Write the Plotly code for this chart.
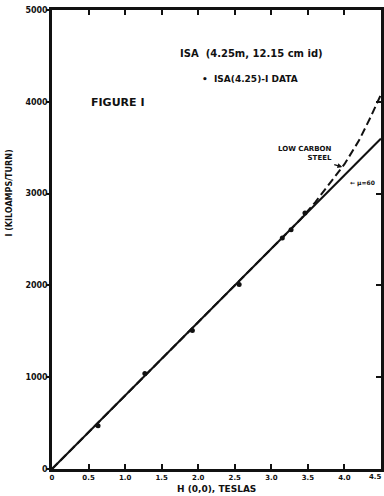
import plotly.graph_objects as go

# Solid line: mu = 60 (linear)
h_line = [0.0, 4.5]
i_line = [0, 3600]

# Dashed curve: low carbon steel
h_steel = [0.0, 1.0, 2.0, 3.0, 3.4, 3.6, 3.8, 4.0, 4.2, 4.35, 4.5]
i_steel = [0, 800, 1600, 2400, 2720, 2905, 3110, 3320, 3580, 3820, 4080]

# Measured data points
h_data = [0.63, 1.27, 1.92, 2.56, 3.15, 3.27, 3.46]
i_data = [470, 1040, 1510, 2010, 2515, 2605, 2790]

x_ticks = [0, 0.5, 1.0, 1.5, 2.0, 2.5, 3.0, 3.5, 4.0, 4.5]
x_tick_text = ["0", "0.5", "1.0", "1.5", "2.0", "2.5", "3.0", "3.5", "4.0", "4.5"]
y_ticks = [0, 1000, 2000, 3000, 4000, 5000]
y_tick_text = ["0", "1000", "2000", "3000", "4000", "5000"]

FONT = "DejaVu Sans"
INK = "#111111"

def txt(size):
    return dict(family=FONT, size=size, weight="bold", color=INK)

fig = go.Figure()
fig.add_trace(go.Scatter(x=h_steel, y=i_steel, mode="lines",
                         line=dict(color=INK, width=2, dash="8px,4px"),
                         hoverinfo="skip", showlegend=False))
fig.add_trace(go.Scatter(x=h_line, y=i_line, mode="lines",
                         line=dict(color=INK, width=2),
                         hoverinfo="skip", showlegend=False))
fig.add_trace(go.Scatter(x=h_data, y=i_data, mode="markers",
                         marker=dict(color=INK, size=5),
                         hoverinfo="skip", showlegend=False))
# invisible traces to anchor the extra tick-only y axes
fig.add_trace(go.Scatter(x=h_line, y=i_line, yaxis="y2", mode="lines",
                         line=dict(width=0), opacity=0,
                         hoverinfo="skip", showlegend=False))
fig.add_trace(go.Scatter(x=h_line, y=i_line, yaxis="y3", mode="lines",
                         line=dict(width=0), opacity=0,
                         hoverinfo="skip", showlegend=False))

fig.update_layout(
    width=384, height=496,
    margin=dict(l=52, r=3, t=10, b=27, autoexpand=False),
    paper_bgcolor="white", plot_bgcolor="white",
    font=dict(family=FONT, color=INK),
    xaxis=dict(range=[0, 4.5], tickvals=x_ticks[:-1], ticktext=x_tick_text[:-1],
               ticks="inside", ticklen=5, tickwidth=2, tickcolor=INK,
               showline=True, linewidth=2.5, linecolor=INK, mirror="ticks",
               showgrid=False, zeroline=False, automargin=False,
               tickfont=txt(7)),
    yaxis=dict(range=[0, 5000], tickvals=y_ticks, ticktext=y_tick_text,
               ticks="inside", ticklen=5, tickwidth=2, tickcolor="rgba(0,0,0,0)",
               showline=True, linewidth=2.5, linecolor=INK, mirror=True,
               showgrid=False, zeroline=False, automargin=False,
               tickfont=txt(8)),
    yaxis2=dict(range=[0, 5000], overlaying="y", side="right", anchor="x",
                tickvals=y_ticks, showticklabels=False, automargin=False,
                ticks="inside", ticklen=5, tickwidth=2, tickcolor=INK,
                showline=False, showgrid=False, zeroline=False),
    yaxis3=dict(range=[0, 5000], overlaying="y", side="left", anchor="x",
                tickvals=y_ticks, showticklabels=False, automargin=False,
                ticks="outside", ticklen=5, tickwidth=2, tickcolor=INK,
                showline=False, showgrid=False, zeroline=False),
)

# last x tick label, partly at the page edge as in the original
fig.add_annotation(x=1, y=0, xref="paper", yref="paper", yanchor="top",
                   xanchor="right", xshift=3, yshift=-2, text=x_tick_text[-1],
                   showarrow=False, font=txt(7))
fig.add_annotation(x=0.5, y=0, xref="paper", yref="paper", yanchor="top",
                   xanchor="center", text="H (0,0), TESLAS", yshift=-13,
                   showarrow=False, font=txt(9))
fig.add_annotation(x=-42/329, y=0.6, xref="paper", yref="paper", textangle=-90,
                   xanchor="center", text="I (KILOAMPS/TURN)", showarrow=False,
                   font=txt(8))
fig.add_annotation(x=1.72, y=4530, xref="x", yref="y", xanchor="left",
                   text="ISA  (4.25m, 12.15 cm id)", showarrow=False, font=txt(10))
fig.add_annotation(x=2.02, y=4250, xref="x", yref="y", xanchor="left",
                   text="•  ISA(4.25)-I DATA", showarrow=False, font=txt(9))
fig.add_annotation(x=0.5, y=3990, xref="x", yref="y", xanchor="left",
                   text="FIGURE I", showarrow=False, font=txt(11))
fig.add_annotation(x=3.06, y=3440, xref="x", yref="y", xanchor="left",
                   text="LOW CARBON<br>STEEL", align="right",
                   showarrow=False, font=txt(7))
fig.add_annotation(x=3.97, y=3290, ax=3.84, ay=3320, axref="x", ayref="y",
                   xref="x", yref="y", text="", showarrow=True,
                   arrowhead=2, arrowsize=0.8, arrowwidth=1.2, arrowcolor=INK)
fig.add_annotation(x=4.05, y=3120, xref="x", yref="y", xanchor="left",
                   text="← μ=60", showarrow=False, font=txt(6))

fig.write_html("out.html", config={"displayModeBar": False},
               post_script="document.body.style.margin='0';document.body.style.overflow='hidden';")
